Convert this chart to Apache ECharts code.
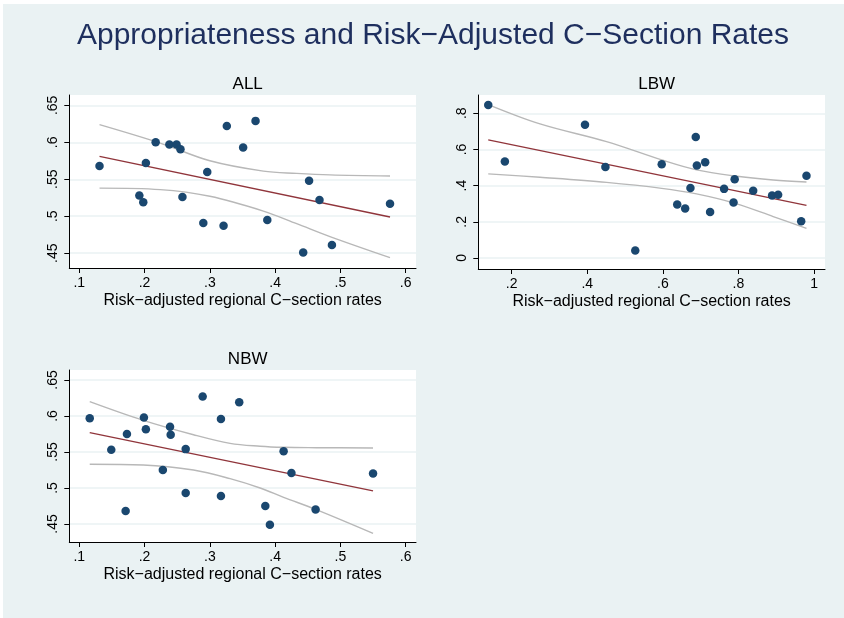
<!DOCTYPE html>
<html>
<head>
<meta charset="utf-8">
<script src="https://cdn.jsdelivr.net/npm/echarts@6/dist/echarts.min.js"></script>
<style>
  html, body { margin: 0; padding: 0; background: #fff; }
  #chart { position: absolute; left: 3px; top: 4px; width: 841px; height: 614px; }
</style>
</head>
<body>
<div id="chart"></div>
<script>
// ALL
const allX = [0.131, 0.192, 0.198, 0.202, 0.217, 0.238, 0.249, 0.255, 0.258, 0.290, 0.296, 0.321, 0.326, 0.351, 0.370, 0.388, 0.443, 0.452, 0.468, 0.487, 0.576];
const allY = [0.568, 0.528, 0.519, 0.572, 0.600, 0.597, 0.597, 0.5905, 0.526, 0.491, 0.560, 0.487, 0.622, 0.593, 0.629, 0.495, 0.451, 0.548, 0.522, 0.461, 0.517];
const allFitX = [0.131, 0.576];
const allFitY = [0.581, 0.499];
const allCiX = [0.131, 0.224, 0.300, 0.382, 0.433, 0.484, 0.576];
const allCiHi = [0.624, 0.599, 0.575, 0.561, 0.558, 0.556, 0.5545];
const allCiLo = [0.538, 0.536, 0.527, 0.507, 0.490, 0.4725, 0.444];

// LBW
const lbwX = [0.138, 0.182, 0.394, 0.448, 0.527, 0.597, 0.638, 0.659, 0.673, 0.687, 0.690, 0.712, 0.725, 0.762, 0.787, 0.790, 0.839, 0.889, 0.905, 0.966, 0.980];
const lbwY = [0.846, 0.533, 0.737, 0.503, 0.041, 0.518, 0.295, 0.273, 0.387, 0.669, 0.511, 0.529, 0.254, 0.382, 0.306, 0.435, 0.372, 0.345, 0.350, 0.203, 0.455];
const lbwFitX = [0.138, 0.980];
const lbwFitY = [0.653, 0.291];
const lbwCiX = [0.138, 0.275, 0.451, 0.597, 0.689, 0.791, 0.892, 0.980];
const lbwCiHi = [0.848, 0.741, 0.643, 0.542, 0.487, 0.453, 0.431, 0.420];
const lbwCiLo = [0.465, 0.446, 0.418, 0.385, 0.354, 0.302, 0.229, 0.164];

// NBW
const nbwX = [0.116, 0.149, 0.171, 0.173, 0.199, 0.202, 0.228, 0.239, 0.240, 0.263, 0.263, 0.289, 0.317, 0.317, 0.345, 0.385, 0.392, 0.413, 0.425, 0.462, 0.550];
const nbwY = [0.597, 0.553, 0.468, 0.575, 0.598, 0.5815, 0.525, 0.585, 0.574, 0.554, 0.493, 0.627, 0.596, 0.489, 0.619, 0.475, 0.449, 0.551, 0.521, 0.470, 0.520];
const nbwFitX = [0.116, 0.550];
const nbwFitY = [0.577, 0.496];
const nbwCiX = [0.116, 0.198, 0.275, 0.331, 0.377, 0.413, 0.463, 0.550];
const nbwCiHi = [0.620, 0.594, 0.574, 0.562, 0.558, 0.5565, 0.556, 0.5556];
const nbwCiLo = [0.533, 0.532, 0.525, 0.513, 0.500, 0.487, 0.470, 0.437];

// tick labels
const rateTicks = [0.1, 0.2, 0.3, 0.4, 0.5, 0.6];
const lbwXTicks = [0.2, 0.4, 0.6, 0.8, 1];
const apprTicks = [0.45, 0.5, 0.55, 0.6, 0.65];
const lbwYTicks = [0, 0.2, 0.4, 0.6, 0.8];

const xName = 'Risk\u2212adjusted regional C\u2212section rates';
const font = '"Liberation Sans", Arial, sans-serif';
const bg = '#EAF2F3';

const zip = (xs, ys) => xs.map((x, i) => [x, ys[i]]);
const fmt = v => String(+v.toFixed(2)).replace(/^0\./, '.');

const xAxisOf = (i, min, max, ticks) => ({
  type: 'value', gridIndex: i, min: min, max: max,
  name: xName, nameLocation: 'middle', nameGap: 25,
  nameTextStyle: { fontFamily: font, fontSize: 16, color: '#000' },
  axisLine: { show: true, onZero: false, lineStyle: { color: '#000', width: 1 } },
  axisTick: { show: true, length: 5, customValues: ticks, lineStyle: { color: '#000' } },
  axisLabel: { customValues: ticks, formatter: fmt, margin: 8, fontFamily: font, fontSize: 14, color: '#000' },
  splitLine: { show: false }
});

const yAxisOf = (i, min, max, ticks) => ({
  type: 'value', gridIndex: i, min: min, max: max,
  axisLine: { show: true, onZero: false, lineStyle: { color: '#000', width: 1 } },
  axisTick: { show: true, length: 5, customValues: ticks, lineStyle: { color: '#000' } },
  axisLabel: { customValues: ticks, formatter: fmt, rotate: 90, margin: 9, fontFamily: font, fontSize: 14, color: '#000' },
  splitLine: { show: true, lineStyle: { color: bg, width: 1.5 } }
});

const seriesOf = (i, xs, ys, fx, fy, cx, hi, lo) => [
  { type: 'line', xAxisIndex: i, yAxisIndex: i, data: zip(cx, hi), smooth: 0.35,
    showSymbol: false, lineStyle: { color: '#b8b8b8', width: 1.4 }, silent: true, z: 2 },
  { type: 'line', xAxisIndex: i, yAxisIndex: i, data: zip(cx, lo), smooth: 0.35,
    showSymbol: false, lineStyle: { color: '#b8b8b8', width: 1.4 }, silent: true, z: 2 },
  { type: 'line', xAxisIndex: i, yAxisIndex: i, data: zip(fx, fy),
    showSymbol: false, lineStyle: { color: '#90353B', width: 1.4 }, silent: true, z: 3 },
  { type: 'scatter', xAxisIndex: i, yAxisIndex: i, data: zip(xs, ys),
    symbolSize: 8.5, itemStyle: { color: '#1A476F', opacity: 1 }, z: 4 }
];

const titleOf = (text, x, y, size, color) => ({
  text: text, left: x, top: y, textAlign: 'center',
  textStyle: { fontFamily: font, fontSize: size, fontWeight: 'normal', color: color }
});

const myChart = echarts.init(document.getElementById('chart'));
const option = {
  backgroundColor: bg,
  animation: false,
  title: [
    titleOf('Appropriateness and Risk\u2212Adjusted C\u2212Section Rates', 425, 12, 30, '#1E2F5E'),
    titleOf('ALL', 239.7, 67, 17, '#000'),
    titleOf('LBW', 648.7, 67, 17, '#000'),
    titleOf('NBW', 239.7, 342, 17, '#000')
  ],
  grid: [
    { left: 66.3, top: 91, width: 346.7, height: 173, show: true, backgroundColor: '#fff', borderWidth: 0 },
    { left: 475.3, top: 91, width: 346.7, height: 174, show: true, backgroundColor: '#fff', borderWidth: 0 },
    { left: 66.3, top: 366, width: 346.7, height: 172, show: true, backgroundColor: '#fff', borderWidth: 0 }
  ],
  xAxis: [
    xAxisOf(0, 0.0847, 0.6158, rateTicks),
    xAxisOf(1, 0.1117, 1.029, lbwXTicks),
    xAxisOf(2, 0.0847, 0.6158, rateTicks)
  ],
  yAxis: [
    yAxisOf(0, 0.430, 0.664, apprTicks),
    yAxisOf(1, -0.061, 0.901, lbwYTicks),
    yAxisOf(2, 0.425, 0.6639, apprTicks)
  ],
  series: [].concat(
    seriesOf(0, allX, allY, allFitX, allFitY, allCiX, allCiHi, allCiLo),
    seriesOf(1, lbwX, lbwY, lbwFitX, lbwFitY, lbwCiX, lbwCiHi, lbwCiLo),
    seriesOf(2, nbwX, nbwY, nbwFitX, nbwFitY, nbwCiX, nbwCiHi, nbwCiLo)
  )
};
myChart.setOption(option);
</script>
</body>
</html>
